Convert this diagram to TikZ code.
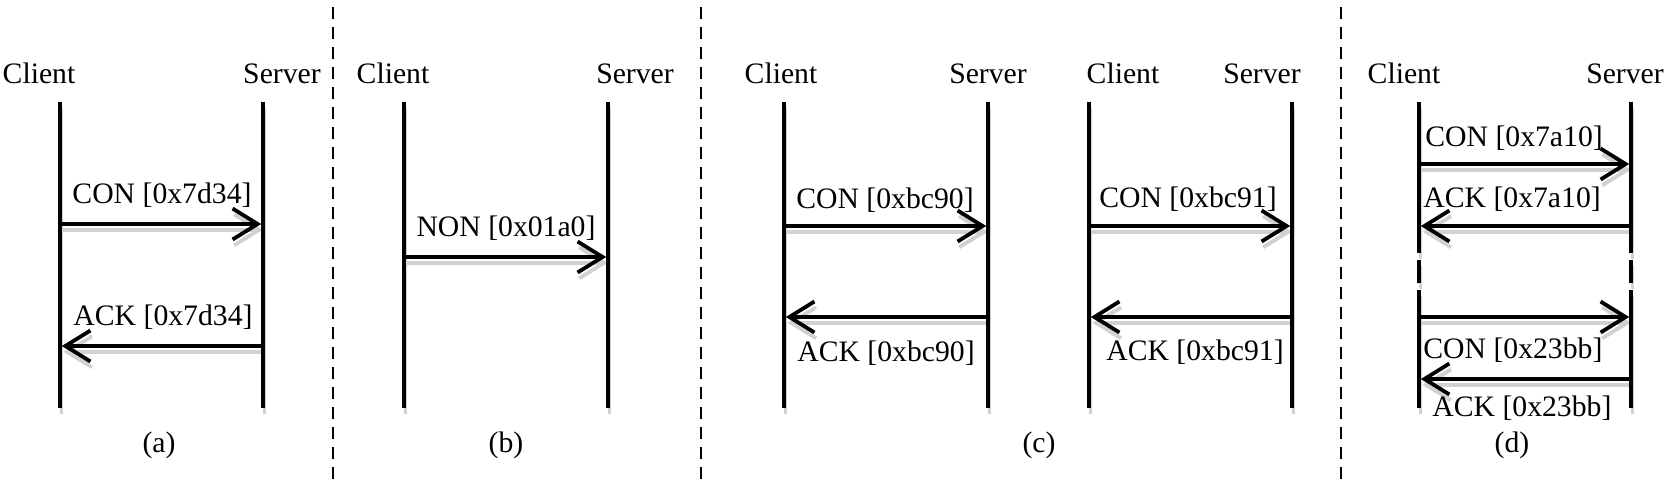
\documentclass[tikz,border=0pt]{standalone}
\usepackage{fontspec}
\setmainfont{Liberation Serif}
\usetikzlibrary{arrows.meta}
\tikzset{
  life/.style={line width=1.85pt},
  msg/.style={line width=1.9pt, -{Straight Barb[length=12.5pt,width=15.5pt]}, shorten >=0.9pt},
  shade/.style={draw=black!18, transform canvas={shift={(0.8pt,-2.9pt)}}},
  divider/.style={line width=1.35pt, dash pattern=on 6pt off 4pt, dash phase=6.5pt},
  lbl/.style={inner sep=0pt, font=\fontsize{14.85}{16}\selectfont},
}
\begin{document}
\begin{tikzpicture}[x=0.5pt,y=-0.5pt]
\useasboundingbox (0,0) rectangle (1665,479);

% dividers
\coordinate (d1t) at (333,0);  \coordinate (d1b) at (333,479);
\coordinate (d2t) at (701,0);  \coordinate (d2b) at (701,479);
\coordinate (d3t) at (1341,0); \coordinate (d3b) at (1341,479);
\draw[divider] (d1t) -- (d1b);
\draw[divider] (d2t) -- (d2b);
\draw[divider] (d3t) -- (d3b);

% headings
\node[lbl, anchor=base] (a-client) at (39,83) {Client};
\node[lbl, anchor=base] (a-server) at (282,83) {Server};
\node[lbl, anchor=base] (b-client) at (393,83) {Client};
\node[lbl, anchor=base] (b-server) at (635,83) {Server};
\node[lbl, anchor=base] (c-client) at (781,83) {Client};
\node[lbl, anchor=base] (c-server) at (988,83) {Server};
\node[lbl, anchor=base] (e-client) at (1123,83) {Client};
\node[lbl, anchor=base] (e-server) at (1262,83) {Server};
\node[lbl, anchor=base] (d-client) at (1404,83) {Client};
\node[lbl, anchor=base] (d-server) at (1625,83) {Server};

% lifeline end points
\coordinate (a-ct) at (60,102);  \coordinate (a-cb) at (60,408);
\coordinate (a-st) at (263,102); \coordinate (a-sb) at (263,408);
\coordinate (b-ct) at (404,102); \coordinate (b-cb) at (404,408);
\coordinate (b-st) at (608,102); \coordinate (b-sb) at (608,408);
\coordinate (c-ct) at (784,102); \coordinate (c-cb) at (784,408);
\coordinate (c-st) at (988,102); \coordinate (c-sb) at (988,408);
\coordinate (e-ct) at (1089,102); \coordinate (e-cb) at (1089,408);
\coordinate (e-st) at (1292,102); \coordinate (e-sb) at (1292,408);
\coordinate (d-ct) at (1419,102); \coordinate (d-cm1) at (1419,253);
\coordinate (d-cm2) at (1419,260); \coordinate (d-cm3) at (1419,283);
\coordinate (d-cm4) at (1419,290); \coordinate (d-cb) at (1419,408);
\coordinate (d-st) at (1631,102); \coordinate (d-sm1) at (1631,253);
\coordinate (d-sm2) at (1631,260); \coordinate (d-sm3) at (1631,283);
\coordinate (d-sm4) at (1631,290); \coordinate (d-sb) at (1631,408);

% message end points
\coordinate (a-c1) at (60,224);  \coordinate (a-s1) at (263,224);
\coordinate (a-c2) at (60,346);  \coordinate (a-s2) at (263,346);
\coordinate (b-c1) at (404,257); \coordinate (b-s1) at (608,257);
\coordinate (c-c1) at (784,226); \coordinate (c-s1) at (988,226);
\coordinate (c-c2) at (784,317); \coordinate (c-s2) at (988,317);
\coordinate (e-c1) at (1089,226); \coordinate (e-s1) at (1292,226);
\coordinate (e-c2) at (1089,317); \coordinate (e-s2) at (1292,317);
\coordinate (d-c1) at (1419,164); \coordinate (d-s1) at (1631,164);
\coordinate (d-c2) at (1419,226); \coordinate (d-s2) at (1631,226);
\coordinate (d-c3) at (1419,317); \coordinate (d-s3) at (1631,317);
\coordinate (d-c4) at (1419,379); \coordinate (d-s4) at (1631,379);

\def\lifelist{a-ct/a-cb, a-st/a-sb, b-ct/b-cb, b-st/b-sb, c-ct/c-cb, c-st/c-sb,
  e-ct/e-cb, e-st/e-sb, d-ct/d-cm1, d-cm2/d-cm3, d-cm4/d-cb,
  d-st/d-sm1, d-sm2/d-sm3, d-sm4/d-sb}
\def\msglist{a-c1/a-s1, a-s2/a-c2, b-c1/b-s1, c-c1/c-s1, c-s2/c-c2,
  e-c1/e-s1, e-s2/e-c2, d-c1/d-s1, d-s2/d-c2, d-c3/d-s3, d-s4/d-c4}

% shadows
\foreach \p/\q in \lifelist {\draw[life, shade] (\p) -- (\q);}
\foreach \p/\q in \msglist {\draw[msg, shade] (\p) -- (\q);}
% lines
\foreach \p/\q in \lifelist {\draw[life] (\p) -- (\q);}
\foreach \p/\q in \msglist {\draw[msg] (\p) -- (\q);}

% labels
\node[lbl, anchor=base] (a-l1) at (162,203) {CON [0x7d34]};
\node[lbl, anchor=base] (a-l2) at (163,325) {ACK [0x7d34]};
\node[lbl, anchor=base] (a-cap) at (159,452) {(a)};
\node[lbl, anchor=base] (b-l1) at (506,236) {NON [0x01a0]};
\node[lbl, anchor=base] (b-cap) at (506,452) {(b)};
\node[lbl, anchor=base] (c-l1) at (885,208) {CON [0xbc90]};
\node[lbl, anchor=base] (c-l2) at (886,361) {ACK [0xbc90]};
\node[lbl, anchor=base] (e-l1) at (1188,207) {CON [0xbc91]};
\node[lbl, anchor=base] (e-l2) at (1195,360) {ACK [0xbc91]};
\node[lbl, anchor=base] (c-cap) at (1039,452) {(c)};
\node[lbl, anchor=base west] (d-l1) at (1425,146) {CON [0x7a10]};
\node[lbl, anchor=base west] (d-l2) at (1423,207) {ACK [0x7a10]};
\node[lbl, anchor=base west] (d-l3) at (1423,358) {CON [0x23bb]};
\node[lbl, anchor=base west] (d-l4) at (1432,416) {ACK [0x23bb]};
\node[lbl, anchor=base] (d-cap) at (1512,452) {(d)};
\end{tikzpicture}
\end{document}
